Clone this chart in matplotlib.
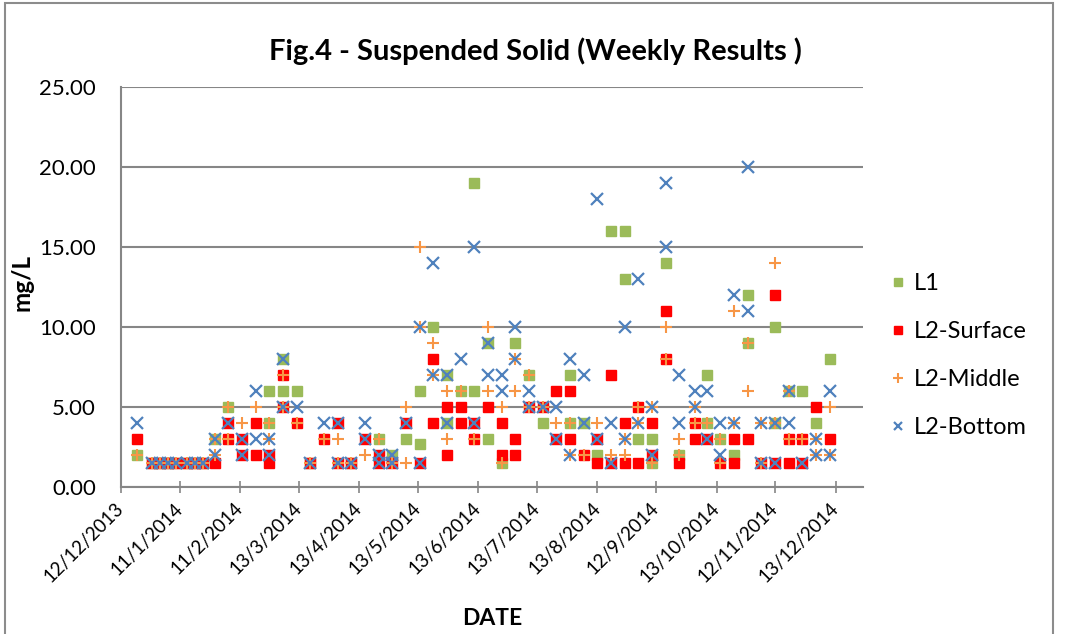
import numpy as np
import pandas as pd
import matplotlib
matplotlib.use('Agg')
import matplotlib.pyplot as plt
from matplotlib.patches import Rectangle
from matplotlib.transforms import ScaledTranslation

plt.rcParams['font.family'] = ['Lato', 'DejaVu Sans']

# sample dates (some dates carry two readings per series, hence repeats)
sample_dates = [
    '20/12/2013', '28/12/2013', '01/01/2014', '05/01/2014', '09/01/2014', '15/01/2014',
    '19/01/2014', '23/01/2014', '29/01/2014', '29/01/2014', '05/02/2014', '05/02/2014',
    '12/02/2014', '12/02/2014', '19/02/2014', '19/02/2014', '26/02/2014', '26/02/2014',
    '05/03/2014', '05/03/2014', '12/03/2014', '19/03/2014', '26/03/2014', '02/04/2014',
    '02/04/2014', '09/04/2014', '16/04/2014', '16/04/2014', '23/04/2014', '23/04/2014',
    '30/04/2014', '30/04/2014', '07/05/2014', '07/05/2014', '14/05/2014', '14/05/2014',
    '21/05/2014', '21/05/2014', '28/05/2014', '28/05/2014', '04/06/2014', '04/06/2014',
    '11/06/2014', '11/06/2014', '18/06/2014', '18/06/2014', '25/06/2014', '25/06/2014',
    '02/07/2014', '02/07/2014', '09/07/2014', '09/07/2014', '16/07/2014', '23/07/2014',
    '23/07/2014', '30/07/2014', '30/07/2014', '06/08/2014', '06/08/2014', '13/08/2014',
    '13/08/2014', '20/08/2014', '20/08/2014', '27/08/2014', '27/08/2014', '03/09/2014',
    '03/09/2014', '10/09/2014', '10/09/2014', '17/09/2014', '17/09/2014', '24/09/2014',
    '24/09/2014', '02/10/2014', '02/10/2014', '08/10/2014', '08/10/2014', '15/10/2014',
    '15/10/2014', '22/10/2014', '22/10/2014', '29/10/2014', '29/10/2014', '05/11/2014',
    '05/11/2014', '12/11/2014', '12/11/2014', '19/11/2014', '19/11/2014', '26/11/2014',
    '26/11/2014', '03/12/2014', '03/12/2014', '10/12/2014', '10/12/2014',
]

n = np.nan
l1 = [
    2, 1.5, 1.5, 1.5, 1.5, 1.5, 1.5, 1.5, 3, n, 5, n,
    n, n, n, n, 6, 4, 8, 6, 6, 1.5, n, n,
    n, 1.5, n, n, 3, n, 2, n, 3, n, 6, 2.7,
    10, n, 7, 4, 6, n, 19, 6, 9, 3, 1.5, n,
    9, n, 7, n, 4, n, n, 7, 4, 4, n, 2,
    n, 16, n, 16, 13, 3, n, 3, 1.5, 14, n, 2,
    n, n, n, 7, 4, 3, n, 2, n, 12, 9, n,
    n, 10, 4, 6, n, 6, n, 4, n, 8, n,
]
l2_surface = [
    3, 1.5, 1.5, 1.5, 1.5, 1.5, 1.5, 1.5, 1.5, n, 4, 3,
    3, 2, 4, 2, 2, 1.5, 7, 5, 4, 1.5, 3, 4,
    1.5, 1.5, 3, n, 2, 1.5, 1.5, n, 4, n, 1.5, n,
    8, 4, 5, 2, 5, 4, 4, 3, 5, n, 4, 2,
    3, 2, 5, n, 5, 6, 3, 6, 3, 2, n, 3,
    1.5, 7, 1.5, 4, 1.5, 5, 1.5, 4, 2, 11, 8, 1.5,
    n, 4, 3, 3, n, 1.5, n, 3, 1.5, 3, n, 1.5,
    n, 12, 1.5, 3, 1.5, 3, 1.5, 5, n, 3, n,
]
l2_middle = [
    2, 1.5, 1.5, 1.5, 1.5, 1.5, 1.5, 1.5, 2, 3, 5, 3,
    4, n, 5, n, 4, 3, 7, 5, 4, 1.5, 3, 3,
    1.5, 1.5, 2, n, 3, n, 1.5, n, 5, 1.5, 15, 10,
    9, 7, 6, 3, 6, n, 3, n, 10, 6, 5, 1.5,
    8, 6, 7, 5, 5, 4, n, 4, 2, 2, n, 4,
    n, 2, n, 3, 2, 5, 4, 5, 1.5, 10, 8, 3,
    2, 4, 5, 4, n, 3, 1.5, 11, 4, 9, 6, 4,
    1.5, 14, 4, 6, 3, 3, n, 3, 2, 5, 2,
]
l2_bottom = [
    4, 1.5, 1.5, 1.5, 1.5, 1.5, 1.5, 1.5, 2, 3, 4, n,
    3, 2, 6, 3, 2, 3, 8, 5, 5, 1.5, 4, 4,
    1.5, 1.5, 4, 3, 2, 1.5, 2, 1.5, 4, n, 10, 1.5,
    14, 7, 7, 4, 8, n, 15, 4, 9, 7, 7, 6,
    10, 8, 6, 5, 5, 5, 3, 8, 2, 7, 4, 18,
    3, 4, 1.5, 10, 3, 13, 4, 5, 2, 19, 15, 7,
    4, 6, 5, 6, 3, 4, 2, 12, 4, 20, 11, 4,
    1.5, 4, 1.5, 6, 4, 1.5, n, 3, 2, 6, 2,
]

tick_labels = ['12/12/2013', '11/1/2014', '11/2/2014', '13/3/2014', '13/4/2014',
               '13/5/2014', '13/6/2014', '13/7/2014', '13/8/2014', '12/9/2014',
               '13/10/2014', '12/11/2014', '13/12/2014']

dates = pd.to_datetime(sample_dates, format='%d/%m/%Y')
ticks = pd.to_datetime(tick_labels, format='%d/%m/%Y')

fig = plt.figure(figsize=(10.66, 6.34), dpi=100)
ax = fig.add_axes([0.1135, 0.2319, 0.6961, 0.6309])

ax.plot(dates, l1, ls='none', marker='s', ms=7, color='#9BBB59', mec='#9BBB59', label='L1')
ax.plot(dates, l2_surface, ls='none', marker='s', ms=7, color='#FF0000', mec='#FF0000',
        label='L2-Surface')
ax.plot(dates, l2_middle, ls='none', marker='+', ms=9, mew=1.5, color='#F79646',
        label='L2-Middle')
ax.plot(dates, l2_bottom, ls='none', marker='x', ms=8, mew=1.6, color='#4F81BD',
        label='L2-Bottom')

ax.set_ylim(0, 25)
ax.set_yticks(np.arange(0, 26, 5))
ax.set_yticklabels([f'{v:.2f}' for v in np.arange(0, 26, 5)], fontsize=16)
ax.set_xlim(pd.Timestamp('2013-12-12'), pd.Timestamp('2014-12-27'))
ax.set_xticks(ticks)
ax.set_xticklabels(tick_labels, rotation=45, ha='right', va='center',
                   rotation_mode='anchor', fontsize=13.5)
shift = ScaledTranslation(5 / 100, 0, fig.dpi_scale_trans)
for lab in ax.get_xticklabels():
    lab.set_transform(lab.get_transform() + shift)

ax.grid(axis='y', color='#868686', lw=1.5)
ax.set_axisbelow(True)
for s in ['top', 'right']:
    ax.spines[s].set_visible(False)
for s in ['left', 'bottom']:
    ax.spines[s].set_color('#868686')
    ax.spines[s].set_linewidth(1.5)
ax.tick_params(axis='y', length=0, pad=18)
ax.tick_params(axis='x', direction='inout', length=9, width=1.2, color='#868686', pad=9)

fig.text(0.502, 0.92, 'Fig.4 - Suspended Solid (Weekly Results )', fontsize=21,
         fontweight='bold', ha='center', va='center')
ax.set_xlabel('DATE', fontsize=16.5, fontweight='bold')
ax.set_ylabel('mg/L', fontsize=17.5, fontweight='bold')
ax.xaxis.set_label_coords(0.5, -0.303)
ax.yaxis.set_label_coords(-0.118, 0.51)

ax.legend(loc='upper left', bbox_to_anchor=(0.816, 0.603), bbox_transform=fig.transFigure,
          frameon=False, fontsize=17, markerscale=0.75, labelspacing=1.15,
          handlelength=0.6, handletextpad=0.35)

fig.patches.append(Rectangle((0.005, -0.01), 0.983, 1.005, transform=fig.transFigure,
                             fill=False, ec='#8C8C8C', lw=1.5))

fig.savefig('out.png', dpi=100)
